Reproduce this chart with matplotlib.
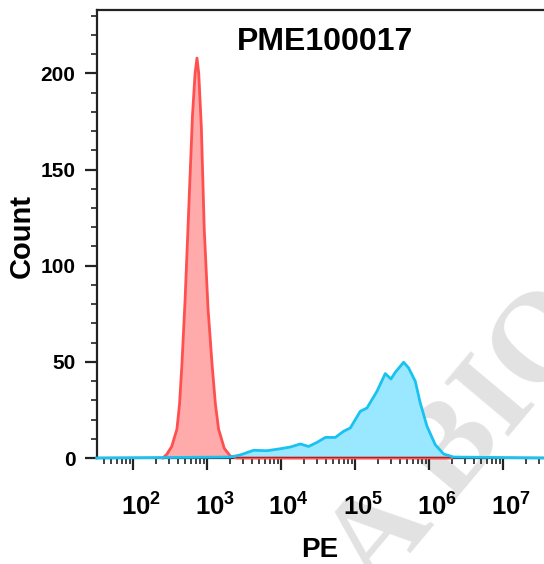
import matplotlib
matplotlib.use("Agg")
import matplotlib.pyplot as plt
import matplotlib.transforms as mtransforms
from matplotlib.ticker import LogLocator, MultipleLocator, NullFormatter
import numpy as np

plt.rcParams['font.family'] = ['Liberation Sans', 'DejaVu Sans']
plt.rcParams['mathtext.fontset'] = 'custom'
plt.rcParams['mathtext.rm'] = 'Liberation Sans:bold'
plt.rcParams['mathtext.bf'] = 'Liberation Sans:bold'
plt.rcParams['mathtext.it'] = 'Liberation Sans:bold'

# ---------------- data ----------------
title = "PME100017"
x_label = "PE"
y_label = "Count"

# isotype / negative control (red)
red_pe = [251, 285, 331, 389, 422, 455, 501, 548, 631, 684, 726, 767, 832, 910,
          1023, 1159, 1288, 1422, 1698, 2046, 2512, 2000000]
red_count = [0, 2, 6, 15, 28, 49, 82, 119, 178, 200, 208, 200, 172, 119,
             78, 49, 28, 15, 5, 1, 0, 0]

# stained sample (blue)
blue_pe = [32, 2046, 2793, 4227, 6412, 9683, 13240, 18070, 23390, 30340, 39360,
           53700, 69500, 85500, 116950, 143900, 196300, 254100, 303400, 347500,
           449800, 524800, 647100, 755100, 931100, 1205000, 1560000, 2128000,
           40000000]
blue_count = [0, 0.5, 1.6, 4.0, 3.8, 4.8, 5.7, 7.3, 6.0, 8.1, 10.7,
              10.7, 13.9, 15.6, 24.3, 26.0, 34.7, 43.9, 41.1, 44.6,
              49.8, 46.9, 39.9, 28.6, 16.5, 6.9, 2.1, 0.5,
              0]

x_ticks = [1e2, 1e3, 1e4, 1e5, 1e6, 1e7]
x_tick_labels = [r'$\mathbf{10^{2}}$', r'$\mathbf{10^{3}}$', r'$\mathbf{10^{4}}$',
                 r'$\mathbf{10^{5}}$', r'$\mathbf{10^{6}}$', r'$\mathbf{10^{7}}$']
y_ticks = [0, 50, 100, 150, 200]
x_limits = (10 ** 1.51, 10 ** 7.55)
y_limits = (0, 233)

# ---------------- figure ----------------
W, H = 544, 564
fig = plt.figure(figsize=(W / 100, H / 100), dpi=100)
ax = fig.add_axes([97 / W, (H - 458) / H, 1 - 97 / W, (458 - 10) / H])
ax.set_facecolor('none')

red_line = '#ff4f4f'
red_fill = '#ffabab'
blue_line = '#19c2f0'
blue_fill = '#9ae8ff'

ax.fill_between(red_pe, 0, red_count, color=red_fill, lw=0, zorder=1)
ax.plot(red_pe, red_count, color=red_line, lw=2, zorder=2.6, clip_on=False)
ax.fill_between(blue_pe, 0, blue_count, color=blue_fill, lw=0, zorder=1.5)
ax.plot(blue_pe, blue_count, color=blue_line, lw=2, zorder=2.7, clip_on=False)
# red baseline shows darker where it overlaps the axis
ax.plot(red_pe[-2:], [0, 0], color='#a02020', lw=2, zorder=2.65)

ax.set_xscale('log')
ax.set_xlim(*x_limits)
ax.set_ylim(*y_limits)

ax.set_xticks(x_ticks)
ax.set_xticklabels(x_tick_labels)
ax.xaxis.set_minor_locator(LogLocator(base=10, subs=np.arange(2, 10), numticks=20))
ax.xaxis.set_minor_formatter(NullFormatter())
ax.set_yticks(y_ticks)
ax.yaxis.set_minor_locator(MultipleLocator(10))

spine_col = '#222222'
for s in ['left', 'bottom', 'top']:
    ax.spines[s].set_linewidth(1.6)
    ax.spines[s].set_color(spine_col)
ax.spines['right'].set_visible(False)

ax.tick_params(axis='both', which='major', direction='out', length=8.5, width=1.6,
               color=spine_col, labelcolor='black')
ax.tick_params(axis='both', which='minor', direction='out', length=4.5, width=1.2,
               color=spine_col)
ax.tick_params(axis='x', which='major', labelsize=18.5, pad=17)
ax.tick_params(axis='y', which='major', labelsize=15, pad=7)
ax.tick_params(top=False, which='both')
for lab in ax.get_yticklabels():
    lab.set_fontweight('bold')

offset = mtransforms.ScaledTranslation(0.075, 0, fig.dpi_scale_trans)
for lab in ax.get_xticklabels():
    lab.set_transform(lab.get_transform() + offset)

# texts
fig.text(325 / W, 1 - 50 / H, title, ha='center', va='baseline',
         fontsize=23, fontweight='bold')
fig.text(320 / W, 1 - 557 / H, x_label, ha='center', va='baseline',
         fontsize=20, fontweight='bold')
fig.text(22 / W, 1 - 236 / H, y_label, ha='center', va='center', rotation=90,
         fontsize=21, fontweight='bold')

# watermark
fig.text(466 / W, 1 - 440 / H, "A BIO", ha='center', va='center', rotation=50,
         rotation_mode='anchor', fontsize=92, fontweight='bold',
         family=['Liberation Serif', 'DejaVu Serif'], color='#e2e2e2', zorder=-1)

fig.savefig('out.png', dpi=100)
